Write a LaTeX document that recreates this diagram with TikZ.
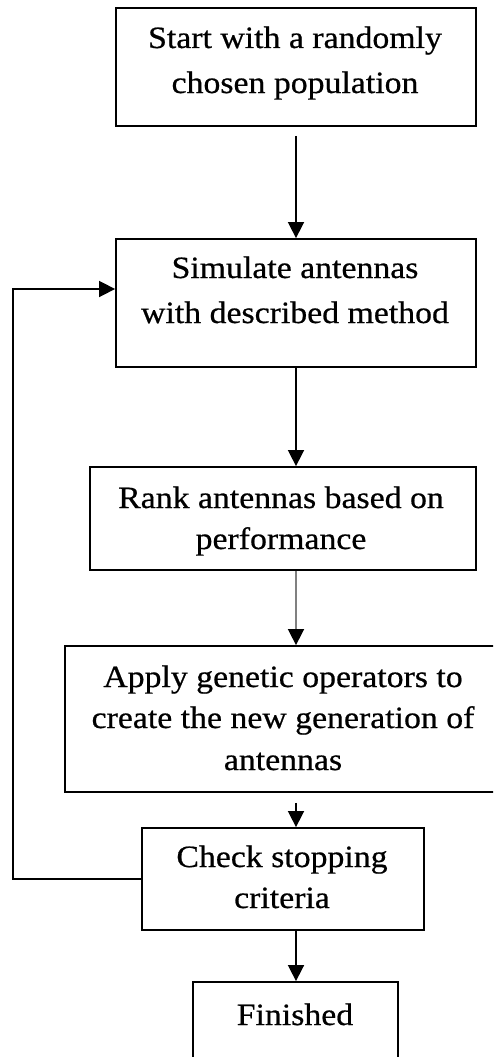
\documentclass[tikz,border=0pt]{standalone}
\usepackage{fontspec}
\setmainfont{Liberation Serif}[FakeStretch=1.09,FakeBold=0.6]
\usetikzlibrary{arrows.meta}
\begin{document}
\begin{tikzpicture}[x=1pt,y=-1pt,
  box/.style={draw=black,line width=1.8pt,rectangle,inner sep=0pt},
  txt/.style={anchor=base,inner sep=0pt,font=\fontsize{31}{43}\selectfont},
  flow/.style={line width=1.6pt,-{Triangle[width=16pt,length=16pt]}}]
\useasboundingbox (0,0) rectangle (493,1057);
\clip (0,0) rectangle (493,1057);
\coordinate (col) at (296,0);
\coordinate (loopx) at (13,0);
\node[box,minimum width=360pt,minimum height=118pt] (b1) at (296,67) {};
\node[box,minimum width=360pt,minimum height=128pt] (b2) at (296,303) {};
\node[box,minimum width=386pt,minimum height=103pt] (b3) at (283,518.5) {};
\node[box,minimum width=436pt,minimum height=146pt] (b4) at (283,719) {};
\node[box,minimum width=282pt,minimum height=102pt] (b5) at (283,879) {};
\node[box,minimum width=205pt,minimum height=106pt] (b6) at (295.5,1035) {};
\node[txt] (t1a) at (295,48) {Start with a randomly};
\node[txt] (t1b) at (295,93) {chosen population};
\node[txt] (t2a) at (295,278) {Simulate antennas};
\node[txt] (t2b) at (295,323) {with described method};
\node[txt] (t3a) at (281,508) {Rank antennas based on};
\node[txt] (t3b) at (281,549) {performance};
\node[txt] (t4a) at (283,687) {Apply genetic operators to};
\node[txt] (t4b) at (283,728) {create the new generation of};
\node[txt] (t4c) at (283,770) {antennas};
\node[txt] (t5a) at (282,867) {Check stopping};
\node[txt] (t5b) at (282,908) {criteria};
\node[txt] (t6a) at (295,1025) {Finished};
\draw[flow] ([yshift=-9pt]b1.south) -- (b2.north);
\draw[flow] (b2.south) -- (b3.north -| col);
\draw[line width=1.6pt,gray,-{Triangle[width=16pt,length=16pt,color=black]}] (b3.south -| col) -- (b4.north -| col);
\draw[flow] ([yshift=-10pt]b4.south -| col) -- (b5.north -| col);
\draw[flow] (b5.south -| col) -- (b6.north -| col);
\coordinate (loopin) at ([yshift=14pt]b2.west);
\draw[flow] (b5.west) -| (loopx |- loopin) -- (loopin);
\end{tikzpicture}
\end{document}
